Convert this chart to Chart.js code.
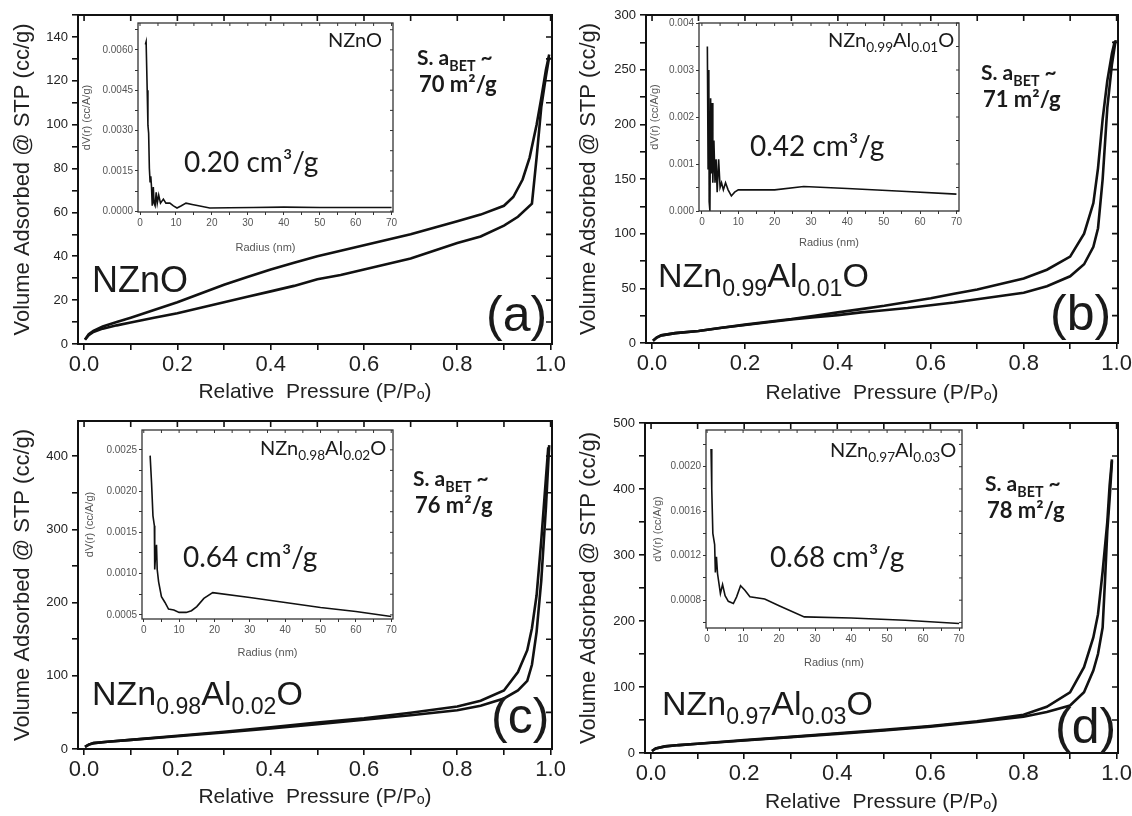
<!DOCTYPE html>
<html>
<head>
<meta charset="utf-8">
<title>BET isotherms</title>
<script src="https://cdn.jsdelivr.net/npm/chart.js@4.4.1/dist/chart.umd.min.js"></script>
<style>
  html, body { margin: 0; padding: 0; background: #fff; }
  #fig { position: relative; width: 1132px; height: 816px; overflow: hidden; background: #fff; }
  #fig canvas { position: absolute; }
  .t { position: absolute; white-space: nowrap; line-height: 1; color: #1a1a1a; }
  .lato { font-family: Lato, 'Noto Sans', sans-serif; }
  .arial { font-family: 'Liberation Sans', Arial, sans-serif; }
  .t sub { font-size: 0.68em; vertical-align: -0.4em; line-height: 0; }
</style>
</head>
<body>
<div id="fig">
  <canvas id="mainA" width="566" height="408"></canvas>
  <canvas id="mainB" width="566" height="408"></canvas>
  <canvas id="mainC" width="566" height="408"></canvas>
  <canvas id="mainD" width="566" height="408"></canvas>
  <canvas id="insetA" width="322" height="262"></canvas>
  <canvas id="insetB" width="330" height="262"></canvas>
  <canvas id="insetC" width="320" height="262"></canvas>
  <canvas id="insetD" width="325" height="265"></canvas>
</div>
<script>
// ---- isotherm data (relative pressure vs volume adsorbed, cc/g) ----
const pTicks = [0, 0.1, 0.2, 0.3, 0.4, 0.5, 0.6, 0.7, 0.8, 0.9, 1.0];
const pLabels = [0, 0.2, 0.4, 0.6, 0.8, 1.0];

// (a) NZnO
const adsPA = [0.002, 0.01, 0.02, 0.04, 0.07, 0.1, 0.15, 0.2, 0.25, 0.3, 0.35, 0.4, 0.45, 0.5, 0.55, 0.6, 0.65, 0.7, 0.75, 0.8, 0.85, 0.9, 0.93, 0.96, 0.97, 0.98, 0.99, 0.997];
const adsVA = [2, 4, 5.5, 7, 8.5, 9.8, 12, 14, 16.5, 19, 21.5, 24, 26.5, 29.5, 31.5, 34, 36.5, 39, 42.5, 46, 49, 54, 58, 64, 85, 108, 122, 131];
const desPA = [0.002, 0.01, 0.02, 0.04, 0.07, 0.1, 0.15, 0.2, 0.25, 0.3, 0.35, 0.4, 0.45, 0.5, 0.55, 0.6, 0.65, 0.7, 0.75, 0.8, 0.85, 0.9, 0.92, 0.94, 0.955, 0.97, 0.98, 0.99, 0.997];
const desVA = [2, 4.5, 6, 8, 10, 12, 15.5, 19, 23, 27, 30.5, 34, 37, 40, 42.5, 45, 47.5, 50, 53, 56, 59, 63, 67, 75, 85, 100, 112, 125, 132];
const yTicksA = [0, 10, 20, 30, 40, 50, 60, 70, 80, 90, 100, 110, 120, 130, 140, 150];
const yLabelsA = [0, 20, 40, 60, 80, 100, 120, 140];

// (b) NZn0.99Al0.01O
const adsPB = [0.002, 0.01, 0.02, 0.05, 0.1, 0.15, 0.2, 0.25, 0.3, 0.35, 0.4, 0.45, 0.5, 0.55, 0.6, 0.65, 0.7, 0.75, 0.8, 0.85, 0.9, 0.93, 0.95, 0.96, 0.97, 0.98, 0.99, 0.998];
const adsVB = [2, 5, 7, 9, 11, 14, 16.5, 19, 21.5, 23.5, 25.5, 28, 30, 32, 34.5, 37, 40, 43, 46, 52, 61, 72, 88, 105, 150, 215, 255, 277];
const desPB = [0.002, 0.01, 0.02, 0.05, 0.1, 0.15, 0.2, 0.25, 0.3, 0.35, 0.4, 0.45, 0.5, 0.55, 0.6, 0.65, 0.7, 0.75, 0.8, 0.85, 0.9, 0.93, 0.95, 0.96, 0.97, 0.98, 0.99, 0.996];
const desVB = [2, 5, 7, 9, 11, 14, 16.8, 19.5, 22, 25, 28, 31, 34, 37.5, 41, 45, 49, 54, 59, 67, 79, 100, 128, 160, 205, 240, 265, 276];
const yTicksB = [0, 25, 50, 75, 100, 125, 150, 175, 200, 225, 250, 275, 300];
const yLabelsB = [0, 50, 100, 150, 200, 250, 300];

// (c) NZn0.98Al0.02O
const adsPC = [0.002, 0.01, 0.02, 0.05, 0.1, 0.2, 0.3, 0.4, 0.5, 0.6, 0.7, 0.8, 0.85, 0.9, 0.93, 0.95, 0.96, 0.97, 0.98, 0.99, 0.997];
const adsVC = [3, 6, 8, 10, 12.5, 17.5, 22.5, 28, 34, 40, 46, 53, 59, 69, 80, 93, 115, 160, 230, 330, 415];
const desPC = [0.002, 0.01, 0.02, 0.05, 0.1, 0.2, 0.3, 0.4, 0.5, 0.6, 0.7, 0.8, 0.85, 0.9, 0.93, 0.95, 0.96, 0.97, 0.98, 0.99, 0.995];
const desVC = [3, 6, 8, 10, 12.5, 18, 23.5, 29.5, 36, 42, 49.5, 58, 66, 80, 105, 135, 165, 210, 285, 370, 412];
const yTicksC = [0, 50, 100, 150, 200, 250, 300, 350, 400];
const yLabelsC = [0, 100, 200, 300, 400];

// (d) NZn0.97Al0.03O
const adsPD = [0.002, 0.01, 0.03, 0.06, 0.1, 0.2, 0.3, 0.4, 0.5, 0.6, 0.7, 0.8, 0.85, 0.9, 0.93, 0.95, 0.96, 0.97, 0.975, 0.98, 0.985, 0.99];
const adsVD = [3, 7, 10, 12, 14, 19, 24, 29, 34, 40, 47, 55, 62, 72, 92, 125, 150, 190, 260, 336, 385, 442];
const desPD = [0.002, 0.01, 0.03, 0.06, 0.1, 0.2, 0.3, 0.4, 0.5, 0.6, 0.7, 0.8, 0.85, 0.9, 0.93, 0.95, 0.96, 0.97, 0.98, 0.985, 0.99];
const desVD = [3, 7, 10, 12, 14, 19.5, 24.5, 30, 35, 41, 48, 58, 70, 92, 130, 175, 210, 275, 350, 405, 445];
const yTicksD = [0, 50, 100, 150, 200, 250, 300, 350, 400, 450, 500];
const yLabelsD = [0, 100, 200, 300, 400, 500];

// ---- pore size distribution insets (radius nm vs dV(r)) ----
const rTicks = [0, 5, 10, 15, 20, 25, 30, 35, 40, 45, 50, 55, 60, 65, 70];
const rLabels = [0, 10, 20, 30, 40, 50, 60, 70];

const radA = [1.5, 1.7, 2.0, 2.2, 2.4, 2.6, 2.8, 3.0, 3.2, 3.4, 3.7, 3.9, 4.2, 4.5, 4.8, 5.2, 5.7, 6.5, 7.2, 8.3, 9.3, 10.3, 11.5, 12.8, 14.5, 16.3, 19.4, 25, 31.5, 40, 50, 60, 70];
const dvA = [0.0062, 0.0063, 0.0045, 0.0032, 0.0029, 0.0016, 0.0011, 0.0013, 0.0009, 0.0002, 0.0009, 0.0003, 0.0002, 0.0007, 0.0003, 0.0006, 0.0003, 0.00045, 0.0003, 0.0003, 0.0002, 0.00012, 0.0002, 0.0003, 0.00025, 0.0002, 0.00012, 0.00013, 0.00014, 0.00015, 0.00014, 0.00014, 0.00014];
const dvTicksA = [0, 0.00075, 0.0015, 0.00225, 0.003, 0.00375, 0.0045, 0.00525, 0.006, 0.00675];
const dvLabelsA = [0, 0.0015, 0.003, 0.0045, 0.006];

const radB = [1.5, 1.7, 1.9, 2.0, 2.2, 2.4, 2.6, 2.8, 3.0, 3.3, 3.6, 3.9, 4.2, 4.6, 5.0, 5.4, 5.9, 6.5, 7.2, 8.1, 9.0, 10, 15, 20, 28, 40, 55, 70];
const dvB = [0.0035, 0.0009, 0.0030, 0.0002, 0.0, 0.0024, 0.0008, 0.0023, 0.0006, 0.0015, 0.0006, 0.0011, 0.0004, 0.0011, 0.0005, 0.0006, 0.00045, 0.0006, 0.00045, 0.00032, 0.0004, 0.00045, 0.00045, 0.00045, 0.00052, 0.00048, 0.00042, 0.00036];
const dvTicksB = [0, 0.0005, 0.001, 0.0015, 0.002, 0.0025, 0.003, 0.0035, 0.004];
const dvLabelsB = [0, 0.001, 0.002, 0.003, 0.004];

const radC = [1.8, 2.2, 2.6, 3.0, 3.1, 3.3, 3.6, 3.8, 4.2, 5.0, 6.0, 7.0, 8.5, 10, 12, 13.5, 15, 17, 19.5, 30, 40, 50, 60, 70];
const dvC = [0.00243, 0.0021, 0.0017, 0.00158, 0.00105, 0.0012, 0.00135, 0.00105, 0.0009, 0.00072, 0.00065, 0.00057, 0.00056, 0.00053, 0.00053, 0.00055, 0.0006, 0.0007, 0.00077, 0.00071, 0.00065, 0.00059, 0.00054, 0.00048];
const dvTicksC = [0.0005, 0.00075, 0.001, 0.00125, 0.0015, 0.00175, 0.002, 0.00225, 0.0025];
const dvLabelsC = [0.0005, 0.001, 0.0015, 0.002, 0.0025];

const radD = [1.1, 1.3, 1.6, 2.1, 2.3, 2.6, 2.9, 3.7, 4.3, 5.0, 5.9, 7.3, 8.2, 9.3, 10.5, 11.9, 16, 20, 27, 40, 55, 70];
const dvD = [0.00216, 0.0018, 0.0014, 0.0013, 0.00105, 0.00119, 0.00104, 0.00086, 0.00094, 0.00084, 0.00079, 0.00077, 0.00083, 0.00093, 0.00089, 0.00083, 0.00081, 0.00075, 0.00065, 0.00064, 0.00062, 0.00059];
const dvTicksD = [0.0006, 0.0008, 0.001, 0.0012, 0.0014, 0.0016, 0.0018, 0.002, 0.0022];
const dvLabelsD = [0.0008, 0.0012, 0.0016, 0.002];

// ---- helpers ----
Chart.defaults.font.family = "'Liberation Sans', Arial, sans-serif";
Chart.defaults.color = '#222';
Chart.defaults.animation = false;

function pts(xs, ys) { return xs.map((x, i) => ({ x: x, y: ys[i] })); }
function isIn(list, v) { return list.some(m => Math.abs(m - v) < 1e-9); }

// draws the box round the plot and the inward ticks on top / right
const framePlugin = {
  id: 'frame',
  beforeDatasetsDraw(chart, args, opts) {
    if (!opts.fill) return;
    const a = chart.chartArea;
    chart.ctx.save();
    chart.ctx.fillStyle = '#fff';
    chart.ctx.fillRect(a.left, a.top, a.right - a.left, a.bottom - a.top);
    chart.ctx.restore();
  },
  afterDraw(chart, args, opts) {
    const { ctx, chartArea: a, scales: { x, y } } = chart;
    ctx.save();
    ctx.strokeStyle = opts.color;
    ctx.lineWidth = opts.tickWidth;
    ctx.beginPath();
    x.ticks.forEach(t => {
      const px = x.getPixelForValue(t.value);
      ctx.moveTo(px, a.top); ctx.lineTo(px, a.top + opts.len);
    });
    y.ticks.forEach(t => {
      const py = y.getPixelForValue(t.value);
      ctx.moveTo(a.right, py); ctx.lineTo(a.right - opts.len, py);
    });
    ctx.stroke();
    ctx.lineWidth = opts.width;
    ctx.strokeRect(a.left, a.top, a.right - a.left, a.bottom - a.top);
    ctx.restore();
  }
};

function place(id, left, top) {
  const cv = document.getElementById(id);
  cv.style.left = left + 'px';
  cv.style.top = top + 'px';
  return cv;
}

// main isotherm panel
function isotherm(cfg) {
  const cv = place(cfg.id, cfg.left, cfg.top);
  new Chart(cv, {
    type: 'scatter',
    data: {
      datasets: cfg.series.map(s => ({
        data: pts(s[0], s[1]),
        showLine: true,
        borderColor: '#111',
        borderWidth: 2.6,
        pointRadius: 0,
        fill: false
      }))
    },
    options: {
      responsive: false,
      events: [],
      layout: { autoPadding: false, padding: { top: cfg.padTop, right: cfg.padRight, left: 0, bottom: 0 } },
      plugins: {
        legend: { display: false },
        tooltip: { enabled: false },
        frame: { len: 6, width: 2, tickWidth: 1.6, color: '#111', fill: false }
      },
      scales: {
        x: {
          type: 'linear', min: -0.013, max: 1.003,
          afterBuildTicks: s => { s.ticks = pTicks.map(v => ({ value: v })); },
          afterFit: s => { s.height = cfg.xH; s.paddingLeft = 0; s.paddingRight = 0; },
          ticks: {
            autoSkip: false, maxRotation: 0, padding: 2, color: '#222',
            font: { size: 22 },
            callback: v => isIn(pLabels, v) ? v.toFixed(1) : ''
          },
          grid: { drawOnChartArea: false, drawTicks: true, tickLength: 6, color: '#111', lineWidth: 1.6 },
          border: { display: false },
          title: {
            display: true, text: 'Relative  Pressure (P/P\u2092)', color: '#222',
            font: { size: 21 }, padding: { top: 0, bottom: cfg.xTitlePad }
          }
        },
        y: {
          type: 'linear', min: 0, max: cfg.yMax,
          afterBuildTicks: s => { s.ticks = cfg.yTicks.map(v => ({ value: v })); },
          afterFit: s => { s.width = cfg.yW; s.paddingTop = 0; s.paddingBottom = 0; },
          ticks: {
            autoSkip: false, padding: 4, color: '#222',
            font: { size: 13 },
            callback: v => isIn(cfg.yLabels, v) ? String(v) : ''
          },
          grid: { drawOnChartArea: false, drawTicks: true, tickLength: 6, color: '#111', lineWidth: 1.6 },
          border: { display: false },
          title: {
            display: true, text: 'Volume Adsorbed @ STP (cc/g)', color: '#222',
            font: { size: 22 }, padding: { top: 10, bottom: 0 }
          }
        }
      }
    },
    plugins: [framePlugin]
  });
}

// pore size distribution inset
function inset(cfg) {
  const cv = place(cfg.id, cfg.left, cfg.top);
  new Chart(cv, {
    type: 'scatter',
    data: {
      datasets: [{
        data: pts(cfg.r, cfg.dv),
        showLine: true,
        borderColor: '#111',
        borderWidth: 1.6,
        pointRadius: 0,
        fill: false
      }]
    },
    options: {
      responsive: false,
      events: [],
      layout: { autoPadding: false, padding: { top: cfg.padTop, right: cfg.padRight, left: 0, bottom: 0 } },
      plugins: {
        legend: { display: false },
        tooltip: { enabled: false },
        frame: { len: 3, width: 1.3, tickWidth: 1, color: '#333', fill: true }
      },
      scales: {
        x: {
          type: 'linear', min: cfg.xMin, max: cfg.xMax,
          afterBuildTicks: s => { s.ticks = rTicks.map(v => ({ value: v })); },
          afterFit: s => { s.height = cfg.xH; s.paddingLeft = 0; s.paddingRight = 0; },
          ticks: {
            autoSkip: false, maxRotation: 0, padding: 2, color: '#555',
            font: { size: 10 },
            callback: v => isIn(rLabels, v) ? String(v) : ''
          },
          grid: { drawOnChartArea: false, drawTicks: true, tickLength: 3, color: '#333', lineWidth: 1 },
          border: { display: false },
          title: {
            display: true, text: 'Radius (nm)', color: '#555',
            font: { size: 11 }, padding: { top: 0, bottom: cfg.xTitlePad }
          }
        },
        y: {
          type: 'linear', min: cfg.yMin, max: cfg.yMax,
          afterBuildTicks: s => { s.ticks = cfg.yTicks.map(v => ({ value: v })); },
          afterFit: s => { s.width = cfg.yW; s.paddingTop = 0; s.paddingBottom = 0; },
          ticks: {
            autoSkip: false, padding: 2, color: '#555',
            font: { size: 10 },
            callback: v => isIn(cfg.yLabels, v) ? v.toFixed(cfg.digits) : ''
          },
          grid: { drawOnChartArea: false, drawTicks: true, tickLength: 3, color: '#333', lineWidth: 1 },
          border: { display: false },
          title: {
            display: true, text: 'dV(r) (cc/A/g)', color: '#555',
            font: { size: 11 }, padding: { top: cfg.yTitlePad, bottom: 0 }
          }
        }
      }
    },
    plugins: [framePlugin]
  });
}

isotherm({ id: 'mainA', left: 0, top: 0, yW: 78, xH: 64, padTop: 15, padRight: 14, xTitlePad: 3,
  yMax: 150, yTicks: yTicksA, yLabels: yLabelsA, series: [[adsPA, adsVA], [desPA, desVA]] });
isotherm({ id: 'mainB', left: 566, top: 0, yW: 80, xH: 65, padTop: 15, padRight: 14, xTitlePad: 2,
  yMax: 300, yTicks: yTicksB, yLabels: yLabelsB, series: [[adsPB, adsVB], [desPB, desVB]] });
isotherm({ id: 'mainC', left: 0, top: 408, yW: 78, xH: 67, padTop: 13, padRight: 14, xTitlePad: 6,
  yMax: 448, yTicks: yTicksC, yLabels: yLabelsC, series: [[adsPC, adsVC], [desPC, desVC]] });
isotherm({ id: 'mainD', left: 566, top: 408, yW: 79, xH: 63, padTop: 15, padRight: 14, xTitlePad: 1,
  yMax: 500, yTicks: yTicksD, yLabels: yLabelsD, series: [[adsPD, adsVD], [desPD, desVD]] });

inset({ id: 'insetA', left: 78, top: 18, yW: 60, xH: 68, padTop: 5, padRight: 7, xTitlePad: 25, yTitlePad: 2,
  xMin: -0.56, xMax: 70.4, yMin: -0.00003, yMax: 0.0070, yTicks: dvTicksA, yLabels: dvLabelsA, digits: 4, r: radA, dv: dvA });
inset({ id: 'insetB', left: 639, top: 18, yW: 60, xH: 69, padTop: 5, padRight: 10, xTitlePad: 30, yTitlePad: 9,
  xMin: -0.8, xMax: 70.7, yMin: 0, yMax: 0.004, yTicks: dvTicksB, yLabels: dvLabelsB, digits: 3, r: radB, dv: dvB });
inset({ id: 'insetC', left: 80, top: 425, yW: 62, xH: 68, padTop: 5, padRight: 7, xTitlePad: 27, yTitlePad: 3,
  xMin: -0.5, xMax: 70.5, yMin: 0.00045, yMax: 0.00274, yTicks: dvTicksC, yLabels: dvLabelsC, digits: 4, r: radC, dv: dvC });
inset({ id: 'insetD', left: 646, top: 425, yW: 60, xH: 62, padTop: 5, padRight: 9, xTitlePad: 20, yTitlePad: 5,
  xMin: -0.3, xMax: 70.8, yMin: 0.00055, yMax: 0.00233, yTicks: dvTicksD, yLabels: dvLabelsD, digits: 4, r: radD, dv: dvD });

// ---- text annotations (layout only) ----
const notes = [
  { x: 328, y: 29, f: 'lato', s: 20, h: 'NZnO' },
  { x: 184, y: 147, f: 'lato', s: 28, h: '0.20 cm³/g' },
  { x: 417, y: 46, f: 'lato', s: 21, b: 1, h: 'S. a<sub>BET</sub> ~' },
  { x: 419, y: 73, f: 'lato', s: 22, b: 1, h: '70 m²/g' },
  { x: 92, y: 262, f: 'arial', s: 36, h: 'NZnO' },
  { x: 486, y: 289, f: 'arial', s: 50, h: '(a)' },

  { x: 828, y: 29, f: 'lato', s: 20, h: 'NZn<sub>0.99</sub>Al<sub>0.01</sub>O' },
  { x: 750, y: 131, f: 'lato', s: 28, h: '0.42 cm³/g' },
  { x: 981, y: 61, f: 'lato', s: 21, b: 1, h: 'S. a<sub>BET</sub> ~' },
  { x: 983, y: 88, f: 'lato', s: 22, b: 1, h: '71 m²/g' },
  { x: 658, y: 258, f: 'arial', s: 34, h: 'NZn<sub>0.99</sub>Al<sub>0.01</sub>O' },
  { x: 1050, y: 288, f: 'arial', s: 50, h: '(b)' },

  { x: 260, y: 437, f: 'lato', s: 20, h: 'NZn<sub>0.98</sub>Al<sub>0.02</sub>O' },
  { x: 183, y: 542, f: 'lato', s: 28, h: '0.64 cm³/g' },
  { x: 413, y: 467, f: 'lato', s: 21, b: 1, h: 'S. a<sub>BET</sub> ~' },
  { x: 415, y: 494, f: 'lato', s: 22, b: 1, h: '76 m²/g' },
  { x: 92, y: 676, f: 'arial', s: 34, h: 'NZn<sub>0.98</sub>Al<sub>0.02</sub>O' },
  { x: 491, y: 691, f: 'arial', s: 50, h: '(c)' },

  { x: 830, y: 439, f: 'lato', s: 20, h: 'NZn<sub>0.97</sub>Al<sub>0.03</sub>O' },
  { x: 770, y: 542, f: 'lato', s: 28, h: '0.68 cm³/g' },
  { x: 985, y: 472, f: 'lato', s: 21, b: 1, h: 'S. a<sub>BET</sub> ~' },
  { x: 987, y: 499, f: 'lato', s: 22, b: 1, h: '78 m²/g' },
  { x: 662, y: 686, f: 'arial', s: 34, h: 'NZn<sub>0.97</sub>Al<sub>0.03</sub>O' },
  { x: 1055, y: 701, f: 'arial', s: 50, h: '(d)' }
];

const fig = document.getElementById('fig');
notes.forEach(n => {
  const d = document.createElement('div');
  d.className = 't ' + n.f;
  d.style.left = n.x + 'px';
  d.style.top = n.y + 'px';
  d.style.fontSize = n.s + 'px';
  if (n.b) d.style.fontWeight = '700';
  d.innerHTML = n.h;
  fig.appendChild(d);
});
</script>
</body>
</html>
